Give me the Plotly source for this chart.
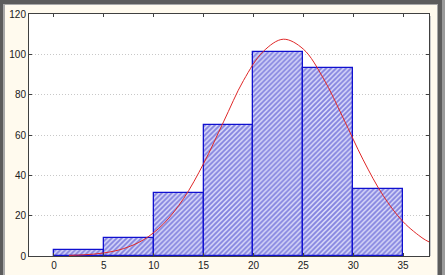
import plotly.graph_objects as go

# Histogram data (bin left edges, counts)
bin_left = [0, 5, 10, 15, 20, 25, 30]
counts = [3, 9, 31, 65, 101, 93, 33]
bin_width = 5

# Fitted curve
curve_x = [1.5, 3, 5, 7, 9, 11, 13, 15, 17, 19, 21, 23, 25, 27, 29, 31, 33, 35, 37, 37.6]
curve_y = [0.3, 0.6, 1.5, 3.7, 8.1, 16.0, 28.5, 45.8, 66.5, 87.0, 101.5, 107.5, 102.6, 88.2, 68.4, 47.7, 30.0, 17.0, 8.7, 7.0]

x_ticks = [0, 5, 10, 15, 20, 25, 30, 35]
y_ticks = [0, 20, 40, 60, 80, 100, 120]

W, H = 445, 275
L, R, T, B = 29, 429, 14, 256


def px(x):
    return (x - L) / (R - L)


def py(y):
    return (B - y) / (B - T)


fig = go.Figure()
fig.add_trace(go.Bar(
    x=[b + bin_width / 2 for b in bin_left],
    y=counts,
    width=bin_width,
    marker=dict(
        color="#dcdcfa",
        line=dict(color="#1010d0", width=1.3),
        pattern=dict(shape="/", fgcolor="#2a2ac4", bgcolor="#dcdcfa", size=3.5, solidity=0.55),
    ),
    showlegend=False,
))
fig.add_trace(go.Scatter(
    x=curve_x, y=curve_y, mode="lines",
    line=dict(color="#e02828", width=1, shape="spline"),
    showlegend=False,
))

shapes = [
    dict(type="rect", xref="paper", yref="paper", x0=px(3), x1=px(438), y0=py(4), y1=py(280),
         fillcolor="#a8a8a8", line=dict(width=0), layer="below"),
    dict(type="rect", xref="paper", yref="paper", x0=px(5), x1=px(437), y0=py(5), y1=py(280),
         fillcolor="#fffaee", line=dict(width=0), layer="below"),
    dict(type="rect", xref="paper", yref="paper", x0=px(442), x1=px(446), y0=py(0), y1=py(280),
         fillcolor="#9a9a9a", line=dict(width=0), layer="below"),
    dict(type="rect", xref="paper", yref="paper", x0=0, x1=1, y0=0, y1=1,
         fillcolor="white", line=dict(width=0), layer="below"),
    dict(type="line", xref="paper", yref="paper", x0=px(430.5), x1=px(430.5), y0=py(16), y1=py(256),
         line=dict(color="#c8c8c8", width=1), layer="below"),
]

fig.update_layout(
    width=W, height=H,
    margin=dict(l=L, r=W - R, t=T, b=H - B, pad=0, autoexpand=False),
    paper_bgcolor="#5c5c5c",
    plot_bgcolor="white",
    font=dict(family="Liberation Sans, Arial, sans-serif", size=10, color="#202020"),
    bargap=0,
    shapes=shapes,
    xaxis=dict(
        range=[-2.5, 37.6], tickvals=x_ticks, ticktext=[str(v) for v in x_ticks],
        showgrid=False, zeroline=False, automargin=False,
        showline=True, linecolor="#404040", linewidth=1, mirror="ticks",
        ticks="inside", ticklen=3, tickcolor="#404040",
        tickfont=dict(size=10, color="#202020"),
    ),
    yaxis=dict(
        range=[0, 120], tickvals=y_ticks, ticktext=[str(v) for v in y_ticks],
        showgrid=True, gridcolor="#c8c8c8", griddash="1px,2px", gridwidth=1,
        zeroline=False, automargin=False,
        showline=True, linecolor="#404040", linewidth=1, mirror="ticks",
        ticks="inside", ticklen=3, tickcolor="#404040",
        tickfont=dict(size=10, color="#202020"),
    ),
)

fig.write_html("out.html")
